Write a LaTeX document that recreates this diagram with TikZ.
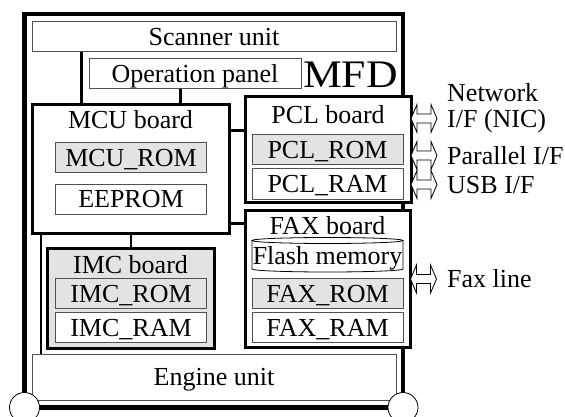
\documentclass[tikz,border=0pt]{standalone}
\usepackage{fontspec}
\setmainfont{Liberation Serif}
\definecolor{linegray}{HTML}{505050}
\definecolor{memgray}{HTML}{E3E3E3}
\tikzset{
  unitbox/.style={draw=linegray, line width=1pt, fill=white, inner sep=0pt, text height=17.2pt, text depth=0pt},
  membox/.style={unitbox, minimum width=151pt, minimum height=30pt},
  boardbox/.style={draw=black, line width=3pt, fill=white, inner sep=0pt},
  lbl/.style={inner sep=0pt, text height=17.2pt, text depth=0pt},
  link/.style={line width=3pt},
  pics/dblarrow/.style={code={
    \draw[line width=0.8pt, fill=white] (0,0) -- (6,-14) -- (6,-4.5) -- (20,-4.5) -- (20,-14) -- (26,0)
      -- (20,14) -- (20,4.5) -- (6,4.5) -- (6,14) -- cycle;}}
}
\begin{document}
\begin{tikzpicture}[x=1pt, y=-1pt, font=\fontsize{26}{28}\selectfont]
\fill[white] (0,0) rectangle (565,417);
\useasboundingbox (0,0) rectangle (565,417);

% outer frame
\node[draw, line width=4.5pt, outer sep=0pt, inner sep=0pt, minimum width=378.5pt, minimum height=393.5pt] (mfdframe) at (213.75,210.75) {};

% top units
\node[unitbox, minimum width=364pt, minimum height=30pt] (scanner) at (214,37) {Scanner unit};
\node[unitbox, minimum width=212pt, minimum height=30pt] (oppanel) at (195,74) {Operation panel};
\node[lbl, font=\fontsize{39}{40}\selectfont, text height=25.8pt] (mfd) at (350.5,74.5) {\scalebox{1.12}[1]{MFD}};

% connector coordinates
\coordinate (xa) at (81.5,0);
\coordinate (xb) at (180,0);
\coordinate (xc) at (131,0);
\coordinate (xd) at (40.5,0);
\coordinate (ya) at (0,131);
\coordinate (yb) at (0,223);

% MCU board
\node[boardbox, minimum width=197pt, minimum height=128pt] (mcu) at (130.5,169) {};
\node[lbl] (mcut) at (130.5,120) {MCU board};
\node[membox, fill=memgray] (mcurom) at (131,158) {MCU\_ROM};
\node[membox] (eeprom) at (131,199) {EEPROM};

% PCL board
\node[boardbox, minimum width=166pt, minimum height=105pt] (pcl) at (328,149.5) {};
\node[lbl] (pclt) at (328,115) {PCL board};
\node[membox, fill=memgray] (pclrom) at (327.5,150) {PCL\_ROM};
\node[membox] (pclram) at (327.5,184) {PCL\_RAM};

% FAX board
\node[boardbox, minimum width=165pt, minimum height=137pt] (fax) at (327.5,278.5) {};
\node[lbl] (faxt) at (327.5,226) {FAX board};
\draw[draw=black, line width=0.8pt] (252,240.5) -- (252,269) arc[start angle=180, end angle=360, x radius=75.5pt, y radius=3pt] -- (403,240.5);
\draw[draw=black, line width=0.8pt] (327.5,240.5) ellipse [x radius=75.5pt, y radius=3pt];
\node[lbl] (flash) at (327.5,256) {Flash memory};
\node[membox, fill=memgray] (faxrom) at (327.5,293.5) {FAX\_ROM};
\node[membox] (faxram) at (327.5,327.5) {FAX\_RAM};

% IMC board
\node[boardbox, fill=memgray, minimum width=167pt, minimum height=100pt] (imc) at (130.5,298) {};
\node[lbl] (imct) at (130.5,265) {IMC board};
\node[membox, fill=memgray] (imcrom) at (131,293.5) {IMC\_ROM};
\node[membox] (imcram) at (131,327.5) {IMC\_RAM};

% Engine unit
\node[unitbox, minimum width=364pt, minimum height=46pt] (engine) at (214,377) {Engine unit};

% connectors
\draw[link] (scanner.south -| xa) -- (mcu.north -| xa);
\draw[link] (oppanel.south -| xb) -- (mcu.north -| xb);
\draw[link] (mcu.east |- ya) -- (pcl.west |- ya);
\draw[link] (mcu.east |- yb) -- (fax.west |- yb);
\draw[line width=2.5pt] (mcu.south -| xc) -- (imc.north -| xc);
\draw[line width=2pt] (mcu.south -| xd) -- (engine.north -| xd);

% external interfaces
\node[lbl, anchor=west] (nic) at (447,118.5) {I/F (NIC)};
\node[lbl] (network) at ([yshift=26pt,xshift=-4pt]nic.center) {Network};
\node[lbl, anchor=west] (par) at (447,155.5) {Parallel I/F};
\node[lbl, anchor=west] (usb) at (447,184.5) {USB I/F};
\node[lbl, anchor=west] (faxline) at (447,279) {Fax line};
\pic at ([xshift=-1.5pt]pcl.east |- nic.west) {dblarrow};
\pic at ([xshift=-1.5pt]pcl.east |- par.west) {dblarrow};
\pic at ([xshift=-1.5pt]pcl.east |- usb.west) {dblarrow};
\pic at ([xshift=-1pt]fax.east |- faxline.west) {dblarrow};

% corner wheels
\node[circle, draw, fill=white, line width=0.8pt, minimum size=30pt, inner sep=0pt] (wheell) at (mfdframe.south west) {};
\node[circle, draw, fill=white, line width=0.8pt, minimum size=30pt, inner sep=0pt] (wheelr) at (mfdframe.south east) {};
\end{tikzpicture}
\end{document}
